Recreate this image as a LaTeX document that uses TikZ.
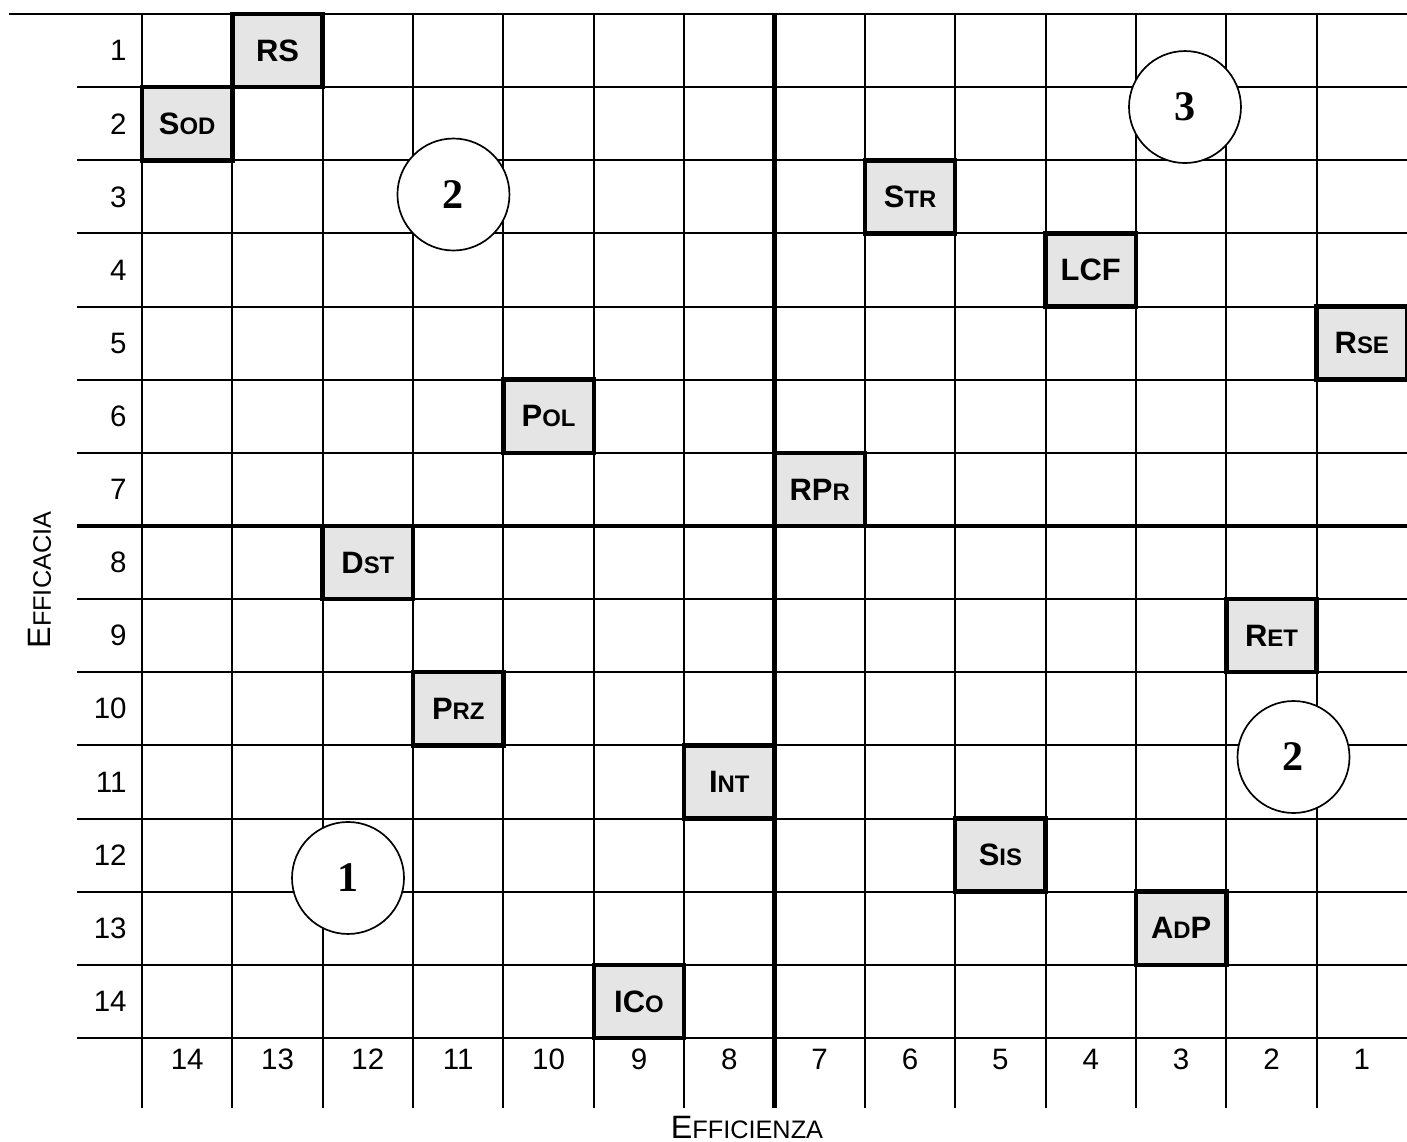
\documentclass[tikz,border=0pt]{standalone}
\usepackage{fontspec}
\setmainfont{Liberation Sans}
\newfontfamily\zonefont{Liberation Serif}
\usepackage{tikz}

\newcommand{\smcap}[1]{{\fontsize{8.5}{10}\selectfont #1}}
\newcommand{\axcap}[1]{{\fontsize{9}{11}\selectfont #1}}

\begin{document}
\begin{tikzpicture}[
    x=1.1295cm, y=-0.91425cm,
    gridline/.style={line width=0.7pt},
    axisline/.style={line width=1.6pt},
    cellbox/.style={
        rectangle, draw, line width=1.6pt,
        fill=black!10,
        minimum width=1.1295cm,
        minimum height=0.91425cm,
        inner sep=0pt,
        font=\fontsize{11}{13}\selectfont\bfseries
    },
    zonenode/.style={
        circle, draw, fill=white, line width=0.6pt,
        minimum size=1.4cm, inner sep=0pt,
        font=\zonefont\fontsize{15}{18}\selectfont\bfseries
    },
    numlbl/.style={font=\fontsize{10.5}{12}\selectfont},
    axislbl/.style={font=\fontsize{11.5}{13}\selectfont},
]
\useasboundingbox (-1.5715,-0.1914) rectangle (14,15.42);

% grid
\draw[gridline] (-1.472,0) -- (14,0);
\foreach \r in {1,...,14}
    \draw[gridline] (-0.719,\r) -- (14,\r);
\foreach \c in {0,...,13}
    \draw[gridline] (\c,0) -- (\c,14.96);

% central axes
\draw[axisline] (7,0) -- (7,14.96);
\draw[axisline] (-0.719,7) -- (14,7);

% scale numbers
\foreach \r in {1,...,14}
    \node[numlbl, anchor=east] (row\r) at (-0.06,\r-0.5) {\r};
\foreach \c in {1,...,14}
    \node[numlbl] (col\c) at (14.5-\c,14.29) {\c};

\node[axislbl, rotate=90] (efficacia) at (-1.129,7.74) {E\axcap{FFICACIA}};
\node[axislbl] (efficienza) at (6.695,15.23) {E\axcap{FFICIENZA}};

% positioned items
\node[cellbox] (rs)  at (1.5,0.5)   {RS};
\node[cellbox] (sod) at (0.5,1.5)   {S\smcap{OD}};
\node[cellbox] (str) at (8.5,2.5)   {S\smcap{TR}};
\node[cellbox] (lcf) at (10.5,3.5)  {LCF};
\node[cellbox] (rse) at (13.5,4.5)  {R\smcap{SE}};
\node[cellbox] (pol) at (4.5,5.5)   {P\smcap{OL}};
\node[cellbox] (rpr) at (7.5,6.5)   {RP\smcap{R}};
\node[cellbox] (dst) at (2.5,7.5)   {D\smcap{ST}};
\node[cellbox] (ret) at (12.5,8.5)  {R\smcap{ET}};
\node[cellbox] (prz) at (3.5,9.5)   {P\smcap{RZ}};
\node[cellbox] (int) at (6.5,10.5)  {I\smcap{NT}};
\node[cellbox] (sis) at (9.5,11.5)  {S\smcap{IS}};
\node[cellbox] (adp) at (11.5,12.5) {A\smcap{D}P};
\node[cellbox] (ico) at (5.5,13.5)  {IC\smcap{O}};

% zones
\node[zonenode] (zone1)  at (2.280,11.813)  {1};
\node[zonenode] (zone2a) at (3.447,2.468)   {2};
\node[zonenode] (zone2b) at (12.744,10.159) {2};
\node[zonenode] (zone3)  at (11.543,1.272)  {3};

\end{tikzpicture}
\end{document}
